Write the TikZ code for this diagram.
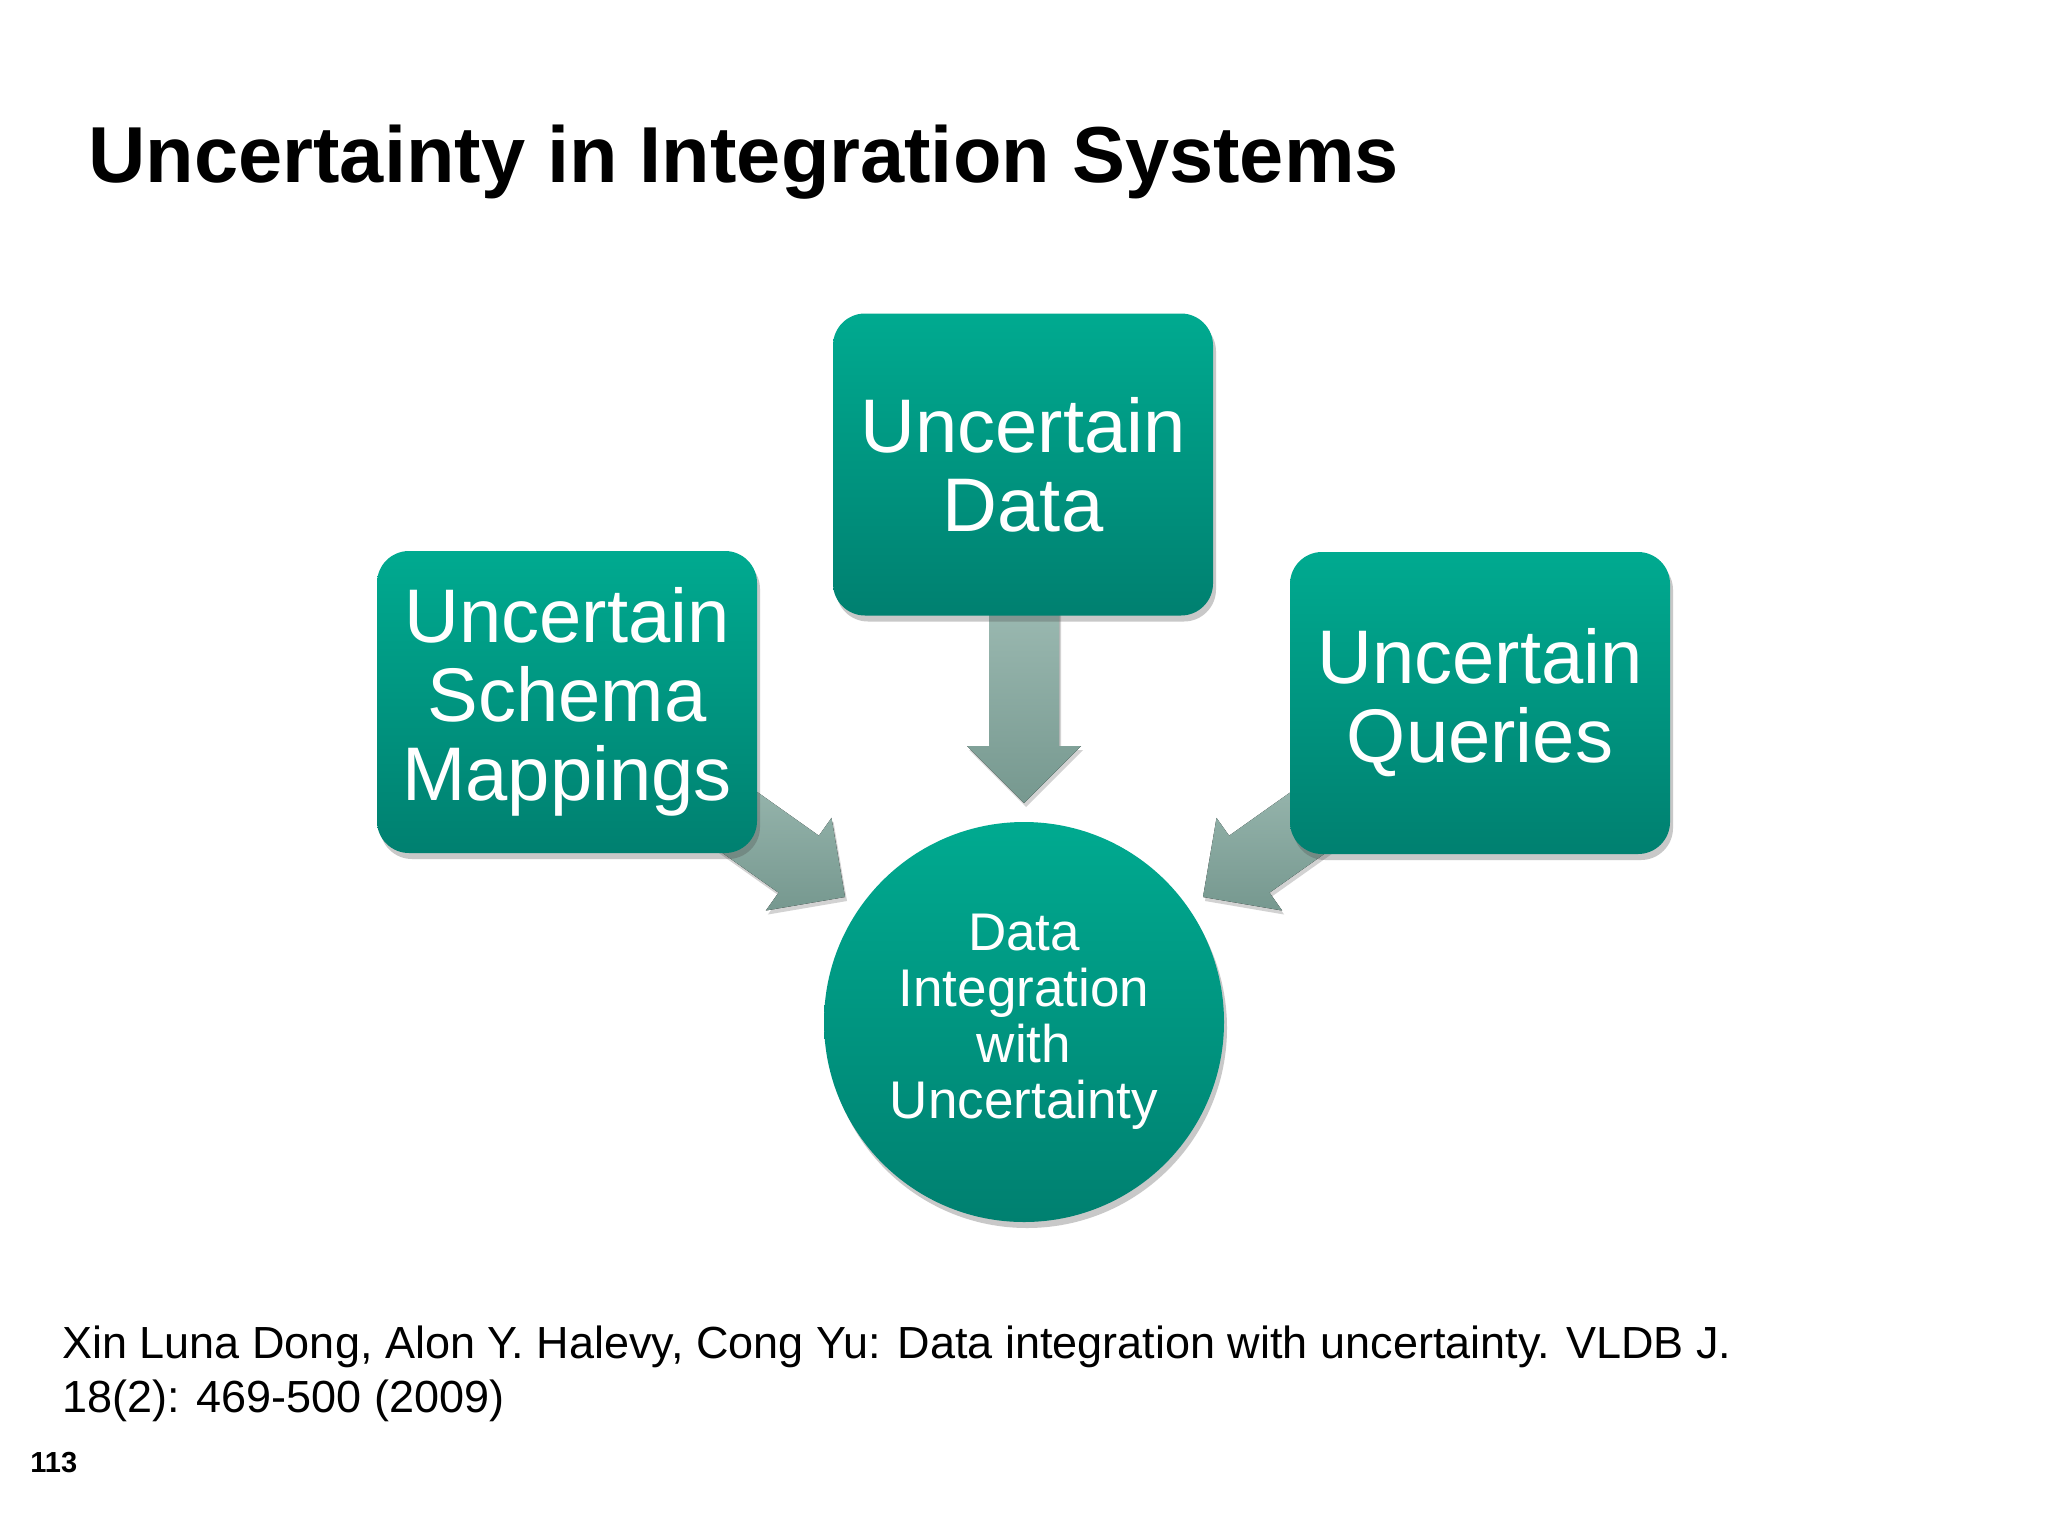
\documentclass[tikz,border=0pt]{standalone}
\usepackage{fontspec}
\setmainfont{Liberation Sans}
\usetikzlibrary{shadows}
\definecolor{tealtop}{RGB}{0,170,144}
\definecolor{tealbot}{RGB}{0,128,112}
\definecolor{arrtop}{RGB}{156,186,178}
\definecolor{arrbot}{RGB}{118,152,143}
\begin{document}
\begin{tikzpicture}[x=0.5pt,y=-0.5pt,
  shadowed/.style={drop shadow={shadow xshift=1.5pt,shadow yshift=-3pt,opacity=0.3,fill=black!70}},
  boxstyle/.style={rectangle, rounded corners=16pt, minimum width=190pt, minimum height=151pt,
    top color=tealtop, bottom color=tealbot, draw=none, text=white, align=center,
    font=\fontsize{38}{39.5}\selectfont, inner sep=0pt, shadowed},
  hubstyle/.style={circle, minimum size=200pt, top color=tealtop, bottom color=tealbot,
    draw=none, text=white, align=center, font=\fontsize{26.5}{28}\selectfont, inner sep=0pt, shadowed},
  arrowstyle/.style={top color=arrtop, bottom color=arrbot, draw=none,
    drop shadow={shadow xshift=1pt,shadow yshift=-2pt,opacity=0.25,fill=black!70}}]
\useasboundingbox[fill=white] (0,0) rectangle (2048,1536);

% title
\node[anchor=base west, inner sep=0pt, font=\fontsize{39.7}{44}\selectfont\bfseries] (title) at (88,182) {Uncertainty in Integration Systems};

% block arrows (drawn first, under the boxes)
\coordinate (dtip) at (1024,803);
\fill[arrowstyle] (989,600) -- (1059,600) -- (1059,746) -- (1081,746) -- (dtip) -- (967,746) -- (989,746) -- cycle;
\coordinate (rtip) at (1203,897);
\fill[arrowstyle] (1375.2,817.8) -- (1269.5,892.7) -- (1282.1,910.5) -- (rtip) -- (1216.5,817.9) -- (1229.1,835.7) -- (1334.8,760.8) -- cycle;
\coordinate (ltip) at (845,897);
\fill[arrowstyle] (672.8,817.8) -- (778.5,892.7) -- (765.9,910.5) -- (ltip) -- (831.5,817.9) -- (818.9,835.7) -- (713.2,760.8) -- cycle;

% boxes
\node[boxstyle] (schema) at (567,702) {Uncertain\\Schema\\Mappings};
\node[boxstyle] (data) at (1023,464.5) {Uncertain\\Data};
\node[boxstyle] (queries) at (1480,703) {Uncertain\\Queries};
\node[hubstyle] (hub) at (1024,1022) {Data\\Integration\\with\\Uncertainty};

% citation
\node[anchor=base west, inner sep=0pt, align=left, font=\fontsize{22.5}{27}\selectfont] (cite) at (62,1412)
  {Xin Luna Dong, Alon Y. Halevy, Cong Yu: Data integration with uncertainty. VLDB J.\\18(2): 469-500 (2009)};
\node[anchor=base west, inner sep=0pt, font=\fontsize{14.5}{16}\selectfont\bfseries] (pagenum) at (30,1472) {113};
\end{tikzpicture}
\end{document}
